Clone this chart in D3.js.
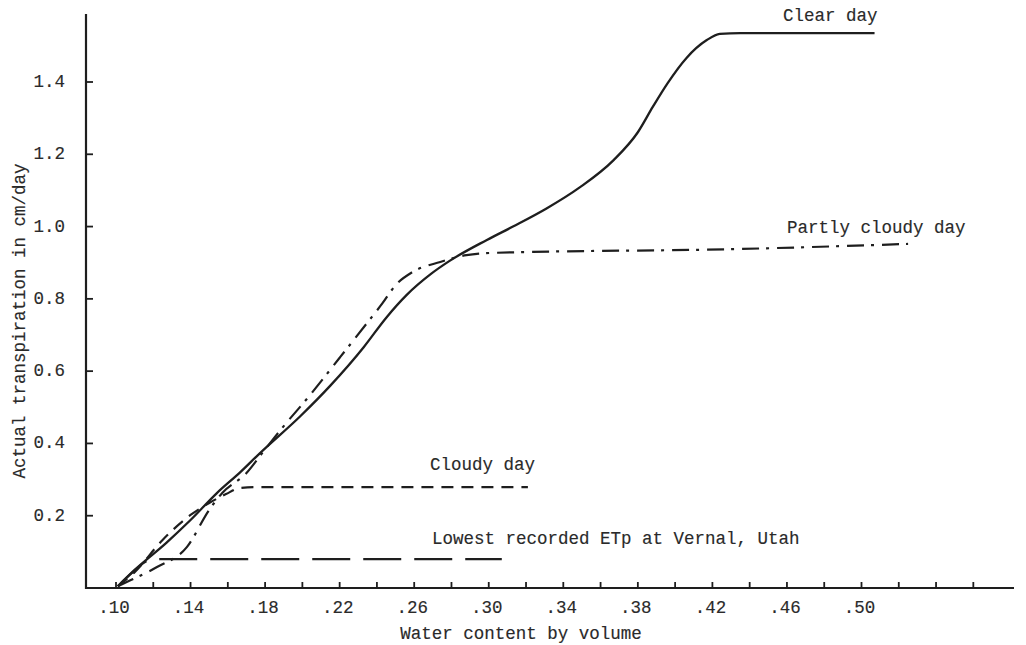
<!DOCTYPE html>
<html>
<head>
<meta charset="utf-8">
<script src="https://cdn.jsdelivr.net/npm/d3@7"></script>
<style>
  html, body { margin: 0; padding: 0; background: #fff; }
  svg { display: block; }
  text { font-family: "Liberation Mono", "Courier New", monospace; font-size: 17.5px; fill: #2a2a2a; stroke: #2a2a2a; stroke-width: 0.15px; }
</style>
</head>
<body>
<script>
// ---- data ----
const xTickValues = [0.10,0.12,0.14,0.16,0.18,0.20,0.22,0.24,0.26,0.28,0.30,0.32,0.34,0.36,0.38,0.40,0.42,0.44,0.46,0.48,0.50,0.52,0.54,0.56];
const xTickLabels = [".10",".14",".18",".22",".26",".30",".34",".38",".42",".46",".50"];
const xLabelValues = [0.10,0.14,0.18,0.22,0.26,0.30,0.34,0.38,0.42,0.46,0.50];
const yTickValues = [0.2,0.4,0.6,0.8,1.0,1.2,1.4];
const yTickLabels = ["0.2","0.4","0.6","0.8","1.0","1.2","1.4"];

const clearX = [0.101,0.110,0.127,0.140,0.154,0.167,0.177,0.199,0.215,0.233,0.245,0.256,0.269,0.279,0.299,0.313,0.331,0.349,0.367,0.380,0.388,0.396,0.406,0.417,0.424,0.435,0.507];
const clearY = [0.005,0.050,0.125,0.188,0.262,0.322,0.372,0.476,0.560,0.667,0.748,0.811,0.869,0.905,0.963,1.000,1.050,1.109,1.184,1.261,1.331,1.397,1.466,1.516,1.533,1.535,1.535];

const partlyX = [0.101,0.108,0.122,0.138,0.150,0.157,0.170,0.179,0.190,0.203,0.220,0.235,0.243,0.250,0.259,0.274,0.288,0.301,0.435,0.525];
const partlyY = [0.005,0.022,0.058,0.113,0.216,0.263,0.318,0.377,0.448,0.527,0.637,0.735,0.788,0.838,0.874,0.902,0.921,0.927,0.938,0.952];

const cloudyX = [0.101,0.110,0.125,0.140,0.150,0.159,0.167,0.175,0.321];
const cloudyY = [0.005,0.044,0.133,0.202,0.235,0.260,0.277,0.279,0.279];

const lowestX = [0.101,0.109,0.117,0.124,0.307];
const lowestY = [0.005,0.044,0.075,0.080,0.080];

const seriesNames = ["Clear day","Partly cloudy day","Cloudy day","Lowest recorded ETp at Vernal, Utah"];
const xTitle = "Water content by volume";
const yTitle = "Actual transpiration in cm/day";

// ---- drawing ----
const W = 1026, H = 645;
const svg = d3.select("body").append("svg").attr("width", W).attr("height", H);

const x = d3.scaleLinear().domain([0.10, 0.50]).range([116, 861.5]);
const y = d3.scaleLinear().domain([0, 1.4]).range([588, 82]);
const axisX0 = 86, axisY0 = 588;
const ink = "#1e1e1e";

// axes lines
svg.append("line").attr("x1", axisX0).attr("x2", axisX0).attr("y1", 14).attr("y2", axisY0 + 1)
  .attr("stroke", ink).attr("stroke-width", 2.2);
svg.append("line").attr("x1", axisX0 - 1).attr("x2", 1014).attr("y1", axisY0).attr("y2", axisY0)
  .attr("stroke", ink).attr("stroke-width", 2.2);

// x ticks (inward)
svg.append("g").selectAll("line").data(xTickValues).join("line")
  .attr("x1", d => x(d)).attr("x2", d => x(d))
  .attr("y1", axisY0).attr("y2", axisY0 - 6)
  .attr("stroke", ink).attr("stroke-width", 1.8);

// y ticks (inward)
svg.append("g").selectAll("line").data(yTickValues).join("line")
  .attr("x1", axisX0).attr("x2", axisX0 + 7)
  .attr("y1", d => y(d)).attr("y2", d => y(d))
  .attr("stroke", ink).attr("stroke-width", 1.8);

// x tick labels
svg.append("g").selectAll("text").data(xLabelValues).join("text")
  .attr("x", d => x(d) - 2).attr("y", 613)
  .attr("text-anchor", "middle")
  .text((d, i) => xTickLabels[i]);

// y tick labels
svg.append("g").selectAll("text").data(yTickValues).join("text")
  .attr("x", 65).attr("y", d => y(d) + 5)
  .attr("text-anchor", "end")
  .text((d, i) => yTickLabels[i]);

// axis titles
svg.append("text").attr("x", 521).attr("y", 639).attr("text-anchor", "middle").text(xTitle);
svg.append("text").attr("transform", "translate(25,321) rotate(-90)").attr("text-anchor", "middle").text(yTitle);

// curves
const line = d3.line().x(d => x(d[0])).y(d => y(d[1])).curve(d3.curveMonotoneX);
const series = [
  { xs: clearX, ys: clearY, dash: null, w: 2.3 },
  { xs: partlyX, ys: partlyY, dash: "17,7,3,8", w: 2.2 },
  { xs: cloudyX, ys: cloudyY, dash: "12,8", w: 2.2 },
  { xs: lowestX, ys: lowestY, dash: "38,13", w: 2.2 }
];
series.forEach(s => {
  const pts = s.xs.map((v, i) => [v, s.ys[i]]);
  const p = svg.append("path").datum(pts).attr("d", line)
    .attr("fill", "none").attr("stroke", ink).attr("stroke-width", s.w)
    .attr("stroke-linecap", "butt").attr("stroke-linejoin", "round");
  if (s.dash) p.attr("stroke-dasharray", s.dash);
});

// series labels
svg.append("text").attr("x", 783).attr("y", 21).text(seriesNames[0]);
svg.append("text").attr("x", 787).attr("y", 233).text(seriesNames[1]);
svg.append("text").attr("x", 430).attr("y", 470).text(seriesNames[2]);
svg.append("text").attr("x", 432).attr("y", 544).text(seriesNames[3]);
</script>
</body>
</html>
